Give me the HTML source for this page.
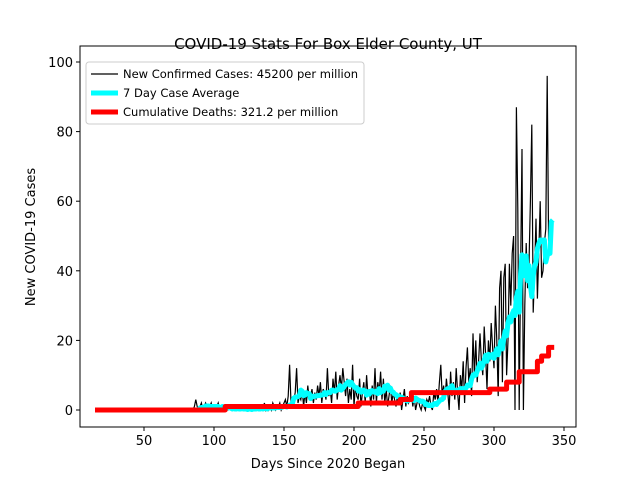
<!DOCTYPE html>
<html><head><meta charset="utf-8"><style>
body{margin:0;background:#fff;}
svg text{font-family:"DejaVu Sans","Liberation Sans",sans-serif;}
</style></head><body>
<svg id="c" width="640" height="480" xmlns="http://www.w3.org/2000/svg"></svg>
<script>
const startDay = 15;
const cases = [
0,0,0,0,0,
0,0,0,0,0,0,0,0,0,0, 0,0,0,0,0,0,0,0,0,0, 0,0,0,0,0,0,0,0,0,0, 0,0,0,0,0,0,0,0,0,0,
0,0,0,0,0,0,0,0,0,0, 0,0,0,0,0,0,0,0,0,0, 0,0,0,0,0, 0,1,3,1,0,
1,2,0,1,2,1,0,1,2,0, 1,0,1,2,0,1,0,0,1,0, 0,1,0,0,1,0,0,1,0,0, 0,0,1,0,0,1,0,0,1,0,
0,1,0,1,0,0,2,0,1,0, 1,0,2,1,0,1,1,2,0,1, 2,3,1,4,13,2,1,3,5,12, 2,4,3,6,1,5,2,7,3,4,
6,2,5,3,7,4,8,2,6,5, 3,12,4,6,2,9,5,11,3,7, 10,6,12,8,4,9,2,6,3,13, 1,7,4,3,9,1,5,8,2,10,
4,6,1,7,3,12,2,8,5,11, 3,9,2,6,1,4,7,2,5,3, 1,4,2,5,0,3,6,1,4,2, 3,5,1,4,0,2,3,1,0,2,
1,0,3,2,4,1,0,5,3,6, 2,8,13,4,7,3,9,5,0,11, 4,8,3,12,5,0,10,6,14,2, 12,18,8,12,4,22,10,20,8,14,
22,14,10,24,16,6,20,14,25,18, 12,30,20,4,35,40,8,38,42,10, 20,42,30,45,50,0,87,58,0,40,
75,0,30,48,35,42,60,82,28,40, 55,32,45,60,38,40,48,52,96,48
];
const deathDays = [15,108,203,233,241,297,309,318,331,334,339,343];
const deathVals = [0,1,2,3,5,6,8,11,14,15.5,18,18];
const xTicks = [50,100,150,200,250,300,350];
const yTicks = [0,20,40,60,80,100];

const L=80,R=576,T=46,B=427;
const xs=d=>74+d*1.4, ys=v=>410-v*3.48;
const svg=document.getElementById('c');
const NS='http://www.w3.org/2000/svg';
function mk(t,a,p){const e=document.createElementNS(NS,t);for(const k in a)e.setAttribute(k,a[k]);(p||svg).appendChild(e);return e;}

// 7-day average
const avg=cases.map((v,i)=>{const s=cases.slice(Math.max(0,i-6),i+1);return s.reduce((a,b)=>a+b,0)/s.length;});

const clip=mk('clipPath',{id:'cp'});mk('rect',{x:L,y:T,width:R-L,height:B-T},clip);
const g=mk('g',{'clip-path':'url(#cp)'});

let p=cases.map((v,i)=>(i?'L':'M')+xs(startDay+i).toFixed(1)+','+ys(v).toFixed(1)).join('');
let e=mk('path',{d:p,fill:'none',stroke:'#000','stroke-width':1.2},g);



p=avg.map((v,i)=>(i?'L':'M')+xs(startDay+i+3).toFixed(1)+','+ys(v).toFixed(1)).join('');
e=mk('path',{d:p,fill:'none',stroke:'#00ffff','stroke-width':5,'stroke-linejoin':'round'},g);



p='';
deathDays.forEach((d,i)=>{const x=xs(d),y=ys(deathVals[i]);if(i===0)p+='M'+x+','+y;else p+='L'+x+','+ys(deathVals[i-1])+'L'+x+','+y;});
e=mk('path',{d:p,fill:'none',stroke:'#ff0000','stroke-width':5,'stroke-linejoin':'round'},g);



e=mk('rect',{x:L,y:T,width:R-L,height:B-T,fill:'none',stroke:'#000','stroke-width':1});



xTicks.forEach(t=>{const x=xs(t);mk('line',{x1:x,x2:x,y1:B,y2:B+4,stroke:'#000'});
 const tx=mk('text',{x:x,y:B+18,'font-size':13,'text-anchor':'middle'});tx.textContent=t;
 
 });
yTicks.forEach(t=>{const y=ys(t);mk('line',{x1:L-4,x2:L,y1:y,y2:y,stroke:'#000'});
 const tx=mk('text',{x:L-7,y:y+5,'font-size':13,'text-anchor':'end'});tx.textContent=t;
 
 });

let t=mk('text',{x:328,y:49,'font-size':15,'text-anchor':'middle'});t.textContent='COVID-19 Stats For Box Elder County, UT';


t=mk('text',{x:328,y:468,'font-size':13,'text-anchor':'middle'});t.textContent='Days Since 2020 Began';


t=mk('text',{x:0,y:0,'font-size':13,'text-anchor':'middle',transform:'translate(35,237) rotate(-90)'});t.textContent='New COVID-19 Cases';



const lg=mk('g',{});


mk('rect',{x:86,y:62,width:278,height:62,rx:3,fill:'#fff',stroke:'#ccc'},lg);
const items=[['New Confirmed Cases: 45200 per million','#000',1.2],['7 Day Case Average','#00ffff',5],['Cumulative Deaths: 321.2 per million','#ff0000',5]];
items.forEach((it,i)=>{const y=74+i*19;mk('line',{x1:91,x2:118,y1:y,y2:y,stroke:it[1],'stroke-width':it[2]},lg);
 const tx=mk('text',{x:123,y:y+4,'font-size':11.5},lg);tx.textContent=it[0];
 
 });
</script>
</body></html>
